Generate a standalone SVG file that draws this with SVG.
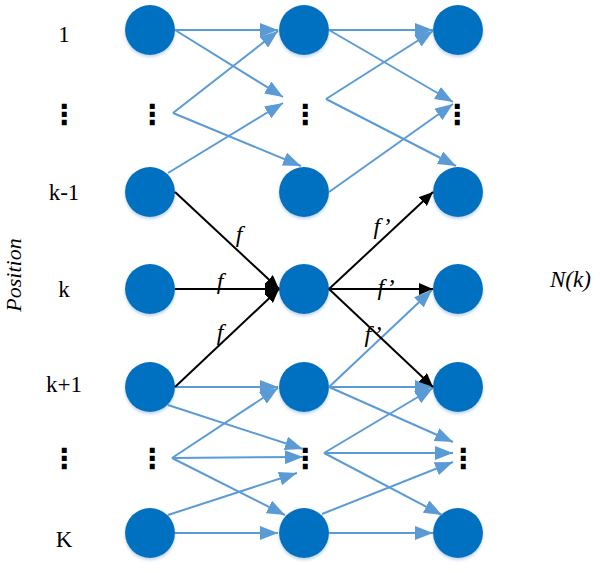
<svg xmlns="http://www.w3.org/2000/svg" width="600" height="573" viewBox="0 0 600 573">
<style>
.node{fill:#0070C0;filter:url(#sh)}
.lbl{font-family:"Liberation Serif","Times New Roman",serif;font-size:23px;fill:#000;text-anchor:middle}
.it{font-family:"Liberation Serif","Times New Roman",serif;font-style:italic;font-size:24px;fill:#000;text-anchor:middle}
.dots{font-family:"DejaVu Sans",sans-serif;font-weight:bold;font-size:28px;fill:#000;text-anchor:middle}
.blue{stroke:#5B9BD5;stroke-width:2;fill:none;marker-end:url(#ab)}
.black{stroke:#000;stroke-width:2;fill:none;marker-end:url(#ak)}
</style>
<defs>
<filter id="sh" x="-30%" y="-30%" width="160%" height="170%">
<feDropShadow dx="0" dy="2" stdDeviation="1.5" flood-color="#9DC3E6" flood-opacity="0.7"/>
</filter>
<marker id="ab" viewBox="0 0 18 14" refX="18" refY="7" markerWidth="18" markerHeight="14" markerUnits="userSpaceOnUse" orient="auto">
<path d="M0,0 L18,7 L0,14 Z" fill="#5B9BD5"/>
</marker>
<marker id="ak" viewBox="0 0 14 12" refX="14" refY="6" markerWidth="14" markerHeight="12" markerUnits="userSpaceOnUse" orient="auto">
<path d="M0,0 L14,6 L0,12 Z" fill="#000"/>
</marker>
</defs>
<rect width="600" height="573" fill="#fff"/>

<g id="labels">
<text class="lbl" x="64" y="42">1</text>
<text class="dots" x="64" y="124">⋮</text>
<text class="lbl" x="64" y="200">k-1</text>
<text class="lbl" x="64" y="297">k</text>
<text class="lbl" x="64" y="392">k+1</text>
<text class="dots" x="64" y="468">⋮</text>
<text class="lbl" x="64" y="547">K</text>
<text class="it" style="font-size:22px" transform="translate(21,275) rotate(-90)" x="0" y="0">Position</text>
<text class="it" style="text-anchor:start;font-size:23px" x="550" y="287">N(k)</text>
</g>

<g id="col1">
<g id="n1-1"><circle class="node" cx="150" cy="30" r="25"/></g>
<g id="n1-dots-top"><text class="dots" x="152" y="124">⋮</text></g>
<g id="n1-km1"><circle class="node" cx="150" cy="192" r="25"/></g>
<g id="n1-k"><circle class="node" cx="150" cy="289" r="25"/></g>
<g id="n1-kp1"><circle class="node" cx="150" cy="387" r="25"/></g>
<g id="n1-dots-bot"><text class="dots" x="152" y="468">⋮</text></g>
<g id="n1-K"><circle class="node" cx="150" cy="533" r="25"/></g>
</g>
<g id="col2">
<g id="n2-1"><circle class="node" cx="304" cy="30" r="25"/></g>
<g id="n2-dots-top"><text class="dots" x="305" y="124">⋮</text></g>
<g id="n2-km1"><circle class="node" cx="304" cy="192" r="25"/></g>
<g id="n2-k"><circle class="node" cx="304" cy="289" r="25"/></g>
<g id="n2-kp1"><circle class="node" cx="304" cy="387" r="25"/></g>
<g id="n2-dots-bot"><text class="dots" x="305" y="468">⋮</text></g>
<g id="n2-K"><circle class="node" cx="304" cy="533" r="25"/></g>
</g>
<g id="col3">
<g id="n3-1"><circle class="node" cx="458" cy="30" r="25"/></g>
<g id="n3-dots-top"><text class="dots" x="457" y="124">⋮</text></g>
<g id="n3-km1"><circle class="node" cx="458" cy="192" r="25"/></g>
<g id="n3-k"><circle class="node" cx="458" cy="289" r="25"/></g>
<g id="n3-kp1"><circle class="node" cx="458" cy="387" r="25"/></g>
<g id="n3-dots-bot"><text class="dots" x="463" y="468">⋮</text></g>
<g id="n3-K"><circle class="node" cx="458" cy="533" r="25"/></g>
</g>

<g id="connectors">
<line class="blue" x1="175" y1="30" x2="278" y2="30"/>
<line class="blue" x1="175" y1="30" x2="283" y2="97"/>
<line class="blue" x1="173" y1="113" x2="278" y2="31"/>
<line class="blue" x1="173" y1="113" x2="301" y2="166"/>
<line class="blue" x1="168" y1="173" x2="283" y2="103"/>
<line class="blue" x1="329" y1="30" x2="433" y2="30"/>
<line class="blue" x1="329" y1="30" x2="453" y2="102"/>
<line class="blue" x1="326" y1="99" x2="433" y2="31"/>
<line class="blue" x1="326" y1="99" x2="456" y2="166"/>
<line class="blue" x1="329" y1="192" x2="453" y2="104"/>
<line class="blue" x1="175" y1="387" x2="278" y2="387"/>
<line class="blue" x1="168" y1="405" x2="303" y2="449"/>
<line class="blue" x1="172" y1="458" x2="278" y2="388"/>
<line class="blue" x1="172" y1="458" x2="303" y2="457"/>
<line class="blue" x1="172" y1="458" x2="285" y2="515"/>
<line class="blue" x1="168" y1="515" x2="297" y2="473"/>
<line class="blue" x1="175" y1="533" x2="278" y2="533"/>
<line class="blue" x1="329" y1="387" x2="433" y2="387"/>
<line class="blue" x1="329" y1="387" x2="453" y2="442"/>
<line class="blue" x1="329" y1="387" x2="432" y2="290"/>
<line class="blue" x1="324" y1="453" x2="433" y2="388"/>
<line class="blue" x1="324" y1="453" x2="453" y2="453"/>
<line class="blue" x1="324" y1="453" x2="442" y2="515"/>
<line class="blue" x1="322" y1="514" x2="453" y2="462"/>
<line class="blue" x1="329" y1="533" x2="433" y2="533"/>
<line class="black" x1="175" y1="192" x2="279" y2="289"/>
<line class="black" x1="175" y1="289" x2="279" y2="289"/>
<line class="black" x1="175" y1="387" x2="279" y2="289"/>
<line class="black" x1="329" y1="289" x2="433" y2="192"/>
<line class="black" x1="329" y1="289" x2="433" y2="289"/>
<line class="black" x1="329" y1="289" x2="433" y2="387"/>
<text class="it" x="239" y="242">f</text>
<text class="it" x="220" y="289">f</text>
<text class="it" x="220" y="340">f</text>
<text class="it" x="382" y="234">f’</text>
<text class="it" x="386" y="295">f’</text>
<text class="it" x="373" y="342">f’</text>
</g>
</svg>
